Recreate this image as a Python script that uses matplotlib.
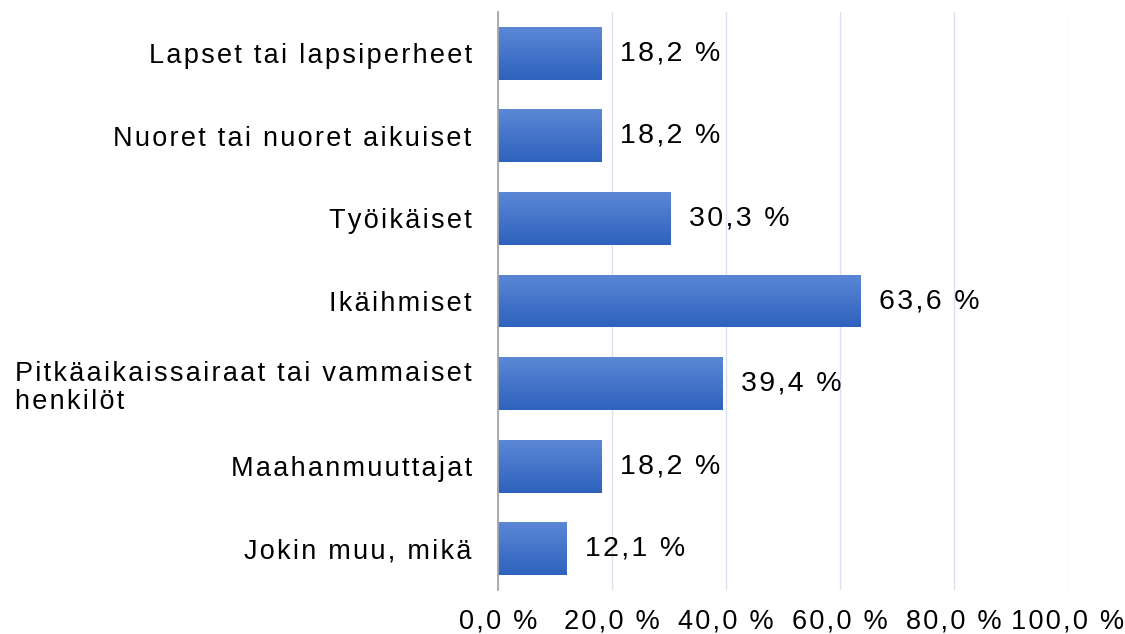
import matplotlib
matplotlib.use("Agg")
import matplotlib.pyplot as plt
import numpy as np
from matplotlib.colors import LinearSegmentedColormap

categories = ["Lapset tai lapsiperheet", "Nuoret tai nuoret aikuiset", "Työikäiset",
              "Ikäihmiset", "Pitkäaikaissairaat tai vammaiset\nhenkilöt",
              "Maahanmuuttajat", "Jokin muu, mikä"]
values = [18.2, 18.2, 30.3, 63.6, 39.4, 18.2, 12.1]
xticks = [0, 20, 40, 60, 80, 100]

HS = "\u200a"
def spaced(s):
    return "\n".join(HS.join(list(line)) for line in s.split("\n"))

plt.rcParams['font.family'] = ['Liberation Sans', 'DejaVu Sans']

fig = plt.figure(figsize=(11.25, 6.34), dpi=100)
ax = fig.add_axes([0.4427, 0.0694, 0.5066, 0.9116])

y = np.arange(len(categories))
bars = ax.barh(y, values, height=0.64, color='#4472C4', zorder=2)

cmap = LinearSegmentedColormap.from_list("g", ["#5B87D6", "#2E62BD"])
grad = np.linspace(0, 1, 100).reshape(-1, 1)
for b in bars:
    x0, y0 = b.get_x(), b.get_y()
    w, h = b.get_width(), b.get_height()
    im = ax.imshow(grad, cmap=cmap, aspect='auto', extent=(x0, x0 + w, y0 + h, y0),
                   origin='upper', zorder=3)
    im.set_clip_path(b)
    b.set_facecolor('none')

ax.set_ylim(len(categories) - 0.5, -0.5)
ax.set_xlim(0, 100)

ax.set_yticks(y)
ax.set_yticklabels([spaced(c) for c in categories], fontsize=19.5, color='#000000')
for lbl, c in zip(ax.get_yticklabels(), categories):
    if "\n" in c:
        lbl.set_multialignment('left')
        lbl.set_linespacing(1.1)
ax.set_xticks(xticks)
ax.set_xticklabels([spaced(f"{v:.1f} %".replace(".", ",")) for v in xticks], fontsize=19.5)
ax.tick_params(axis='y', length=0, pad=19)
ax.tick_params(axis='x', length=0, pad=13)

ax.grid(axis='x', color='#D9E2F0', linewidth=1.0, zorder=0)
ax.set_axisbelow(True)
for s in ['top', 'right', 'bottom']:
    ax.spines[s].set_visible(False)
ax.spines['left'].set_color('#A6A6A6')
ax.spines['left'].set_linewidth(1.3)
ax.spines['left'].set_zorder(4)

labs = ax.bar_label(bars, labels=[spaced(f"{v:.1f} %".replace(".", ",")) for v in values],
                    padding=13, fontsize=20.5, color='#000000')

fig.savefig("out.png", dpi=100)
